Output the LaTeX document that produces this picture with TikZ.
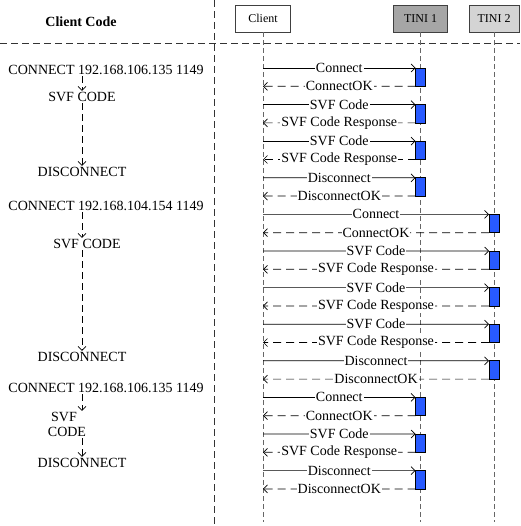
\documentclass[tikz,border=0pt]{standalone}
\usepackage{fontspec}
\setmainfont{Liberation Serif}
\usetikzlibrary{arrows.meta}

\definecolor{actblue}{RGB}{40,90,255}

\tikzstyle{obj}=[shape=rectangle,
                draw=black!75,
                minimum height=27pt,
                minimum width=55pt,
                font=\fontsize{12}{14}\selectfont]
\tikzstyle{act}=[shape=rectangle,
                draw=black,
                fill=actblue,
                minimum height=18.3pt,
                minimum width=10pt,
                inner sep=0pt,
                outer sep=0pt]
\tikzstyle{hdr}=[font=\fontsize{14}{16}\selectfont\bfseries]
\tikzstyle{txt}=[inner sep=1pt]
\tikzstyle{lbl}=[fill=white,inner sep=1pt]
\tikzstyle{sep}=[draw=black!80,dash pattern=on 7pt off 4pt]
\tikzstyle{life}=[draw=black!60,dash pattern=on 5pt off 3pt]
\tikzstyle{req}=[->]
\tikzstyle{rep}=[->,dash pattern=on 8pt off 5pt]
\tikzstyle{flow}=[->,dash pattern=on 7pt off 4pt]

\begin{document}
\begin{tikzpicture}[x=1pt,y=-1pt,line width=0.7pt,
  >={Straight Barb[length=4pt,width=8pt]},
  font=\fontsize{14}{16}\selectfont]
\useasboundingbox (0,0) rectangle (520,526);

% header of the left column and the separators
\node[hdr] (title) at (81,22) {Client Code};
\coordinate (septop) at (214,0);
\coordinate (sepbot) at (214,526);
\coordinate (rulel) at (0,43);
\coordinate (ruler) at (520,43);
\draw[sep] (septop) -- (sepbot);
\draw[sep] (rulel) -- (ruler);

% objects and lifelines
\node[obj] (client) at (263,18.5) {Client};
\node[obj,fill=black!35,minimum width=54pt] (tini1) at (420.5,18.5) {TINI 1};
\node[obj,fill=black!17,minimum width=50pt] (tini2) at (494,18.5) {TINI 2};
\coordinate (clientend) at (263,522);
\coordinate (tini1end) at (420.5,522);
\coordinate (tini2end) at (494,522);
\draw[life] (client.south) -- (clientend);
\draw[life] (tini1.south) -- (tini1end);
\draw[life] (tini2.south) -- (tini2end);

% message rows on the client lifeline
\foreach \i in {0,...,23}
  \coordinate (c\i) at (263,{68+18.3*\i});

% activation boxes (TINI 1, TINI 2, TINI 1)
\node[act] (a1) at (420.5,77.15) {};
\node[act] (a2) at (420.5,113.75) {};
\node[act] (a3) at (420.5,150.35) {};
\node[act] (a4) at (420.5,186.95) {};
\node[act] (b1) at (494,223.55) {};
\node[act] (b2) at (494,260.15) {};
\node[act] (b3) at (494,296.75) {};
\node[act] (b4) at (494,333.35) {};
\node[act] (b5) at (494,369.95) {};
\node[act] (d1) at (420.5,406.55) {};
\node[act] (d2) at (420.5,443.15) {};
\node[act] (d3) at (420.5,479.75) {};

% first session with TINI 1
\draw[req] (c0) -- node[lbl] {Connect} (a1.north west);
\draw[rep] (a1.south west) -- node[lbl] {ConnectOK} (c1);
\draw[req] (c2) -- node[lbl] {SVF Code} (a2.north west);
\draw[rep] (a2.south west) -- node[lbl] {SVF Code Response} (c3);
\draw[req] (c4) -- node[lbl] {SVF Code} (a3.north west);
\draw[rep] (a3.south west) -- node[lbl] {SVF Code Response} (c5);
\draw[req] (c6) -- node[lbl] {Disconnect} (a4.north west);
\draw[rep] (a4.south west) -- node[lbl] {DisconnectOK} (c7);

% session with TINI 2
\draw[req] (c8) -- node[lbl] {Connect} (b1.north west);
\draw[rep] (b1.south west) -- node[lbl] {ConnectOK} (c9);
\draw[req] (c10) -- node[lbl] {SVF Code} (b2.north west);
\draw[rep] (b2.south west) -- node[lbl] {SVF Code Response} (c11);
\draw[req] (c12) -- node[lbl] {SVF Code} (b3.north west);
\draw[rep] (b3.south west) -- node[lbl] {SVF Code Response} (c13);
\draw[req] (c14) -- node[lbl] {SVF Code} (b4.north west);
\draw[rep] (b4.south west) -- node[lbl] {SVF Code Response} (c15);
\draw[req] (c16) -- node[lbl] {Disconnect} (b5.north west);
\draw[rep] (b5.south west) -- node[lbl] {DisconnectOK} (c17);

% second session with TINI 1
\draw[req] (c18) -- node[lbl] {Connect} (d1.north west);
\draw[rep] (d1.south west) -- node[lbl] {ConnectOK} (c19);
\draw[req] (c20) -- node[lbl] {SVF Code} (d2.north west);
\draw[rep] (d2.south west) -- node[lbl] {SVF Code Response} (c21);
\draw[req] (c22) -- node[lbl] {Disconnect} (d3.north west);
\draw[rep] (d3.south west) -- node[lbl] {DisconnectOK} (c23);

% client code steps
\node[txt] (conn1) at (106,70) {CONNECT 192.168.106.135 1149};
\node[txt] (svf1) at (82,97) {SVF CODE};
\node[txt] (disc1) at (82,172) {DISCONNECT};
\node[txt] (conn2) at (106,206) {CONNECT 192.168.104.154 1149};
\node[txt] (svf2) at (87,244) {SVF CODE};
\node[txt] (disc2) at (82,357) {DISCONNECT};
\node[txt] (conn3) at (106,388) {CONNECT 192.168.106.135 1149};
\node[txt] (svf3) at (64,417) {SVF};
\node[txt] (code3) at (67,432) {CODE};
\node[txt] (disc3) at (82,463) {DISCONNECT};

\draw[flow] (svf1 |- conn1.south) -- (svf1.north);
\draw[flow] (svf1.south) -- (disc1.north);
\draw[flow] (disc2 |- conn2.south) -- (disc2 |- svf2.north);
\draw[flow] (disc2 |- svf2.south) -- (disc2.north);
\draw[flow] (disc3 |- conn3.south) -- (disc3 |- svf3.north);
\draw[flow] (disc3 |- code3.south) -- (disc3.north);

\end{tikzpicture}
\end{document}
